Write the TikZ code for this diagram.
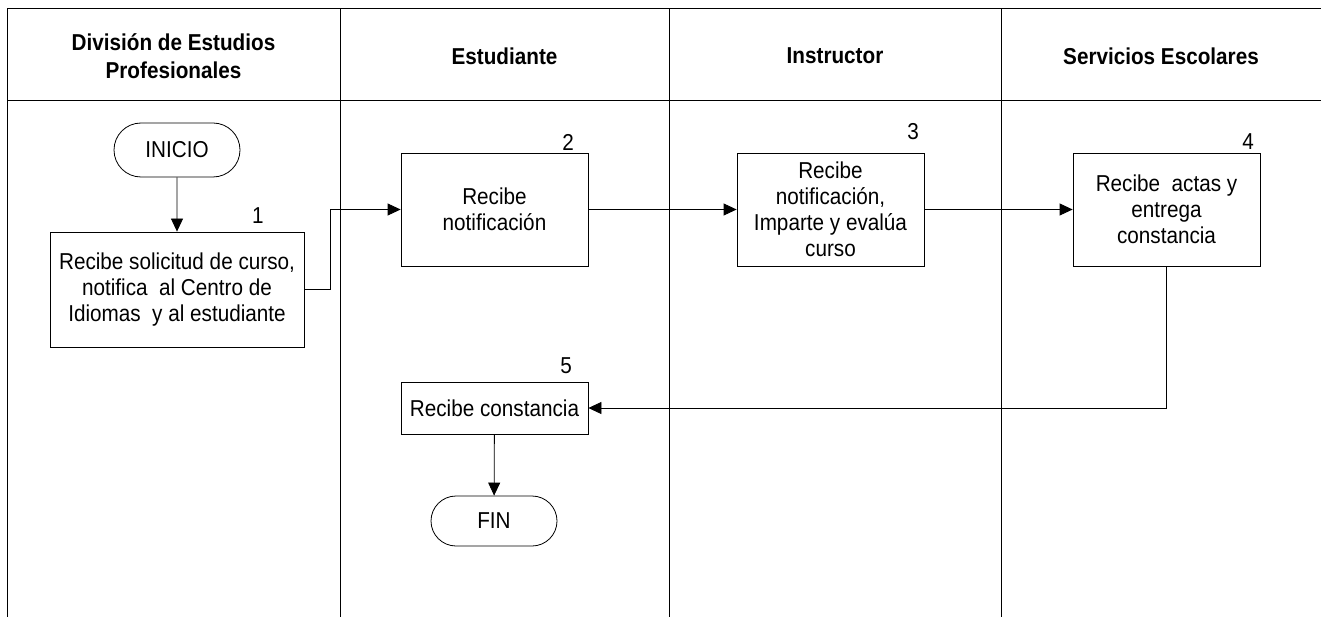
\documentclass[tikz,border=0pt]{standalone}
\usepackage{fontspec}
\setmainfont{Liberation Sans}[FakeStretch=0.9]
\usetikzlibrary{arrows.meta,shapes.misc}
\tikzset{
  body/.style={font=\fontsize{23}{26}\selectfont},
  hdr/.style={font=\fontsize{23}{28}\selectfont\bfseries, align=center},
  stepbox/.style={draw, line width=0.8pt, align=center, body, inner sep=0pt},
  term/.style={draw, line width=0.8pt, rounded rectangle, body, inner sep=0pt},
  numlbl/.style={body},
  arr/.style={line width=0.8pt, -{Triangle[length=13pt,width=12pt]}},
  frame/.style={line width=1pt}
}
\begin{document}
\begin{tikzpicture}[x=1pt,y=-1pt]
\useasboundingbox (0,0) rectangle (1321,617);
% lanes
\draw[frame] (7,9) -- (1321,9);
\draw[frame] (7,101) -- (1321,101);
\draw[frame] (7,9) -- (7,617);
\draw[frame] (340,9) -- (340,617);
\draw[frame] (669,9) -- (669,617);
\draw[frame] (1001,9) -- (1001,617);
\node[hdr] (h1) at (173.5,56) {División de Estudios\\Profesionales};
\node[hdr] (h2) at (504.5,56) {Estudiante};
\node[hdr] (h3) at (835,56) {Instructor};
\node[hdr] (h4) at (1161,56) {Servicios Escolares};
% nodes
\node[term, minimum width=126pt, minimum height=54pt] (ini) at (177,150) {INICIO};
\node[stepbox, minimum width=254pt, minimum height=115pt] (b1) at (177,289.5) {Recibe solicitud de curso,\\notifica\ \ al Centro de\\Idiomas\ \ y al estudiante};
\node[stepbox, minimum width=187pt, minimum height=113pt] (b2) at (494.5,209.5) {Recibe\\notificación};
\node[stepbox, minimum width=187pt, minimum height=113pt] (b3) at (830.5,209.5) {Recibe\\notificación,\\Imparte y evalúa\\curso};
\node[stepbox, minimum width=187pt, minimum height=113pt] (b4) at (1166.5,209.5) {Recibe\ \ actas y\\entrega\\constancia};
\node[stepbox, minimum width=187pt, minimum height=52pt] (b5) at (494.5,408) {Recibe constancia};
\node[term, minimum width=126pt, minimum height=50pt] (fin) at (494,521) {FIN};
% numbers
\node[numlbl] (n1) at (258,216) {1};
\node[numlbl] (n2) at (568,142) {2};
\node[numlbl] (n3) at (913,132) {3};
\node[numlbl] (n4) at (1248,142) {4};
\node[numlbl] (n5) at (566,366) {5};
% connectors
\draw[arr] (ini) -- (b1);
\draw[arr] (b1.east) -- ++(26,0) |- (b2.west);
\draw[arr] (b2) -- (b3);
\draw[arr] (b3) -- (b4);
\draw[arr] (b4.south) |- (b5.east);
\draw[arr] (b5) -- (fin);
\end{tikzpicture}
\end{document}
